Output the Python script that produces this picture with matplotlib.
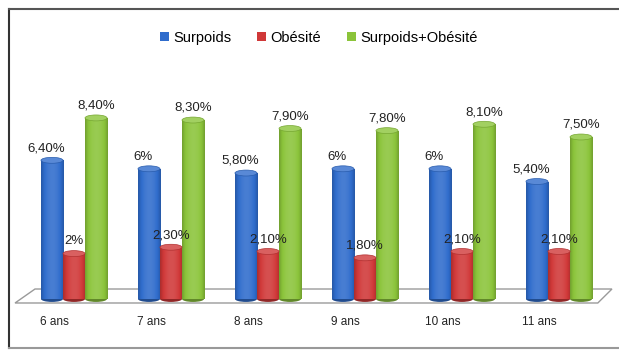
import numpy as np
import matplotlib.pyplot as plt
from matplotlib.patches import Rectangle, Ellipse, Polygon, Patch
from matplotlib.lines import Line2D

# Données
ages = ["6 ans", "7 ans", "8 ans", "9 ans", "10 ans", "11 ans"]
surpoids = [6.4, 6.0, 5.8, 6.0, 6.0, 5.4]
obesite = [2.0, 2.3, 2.1, 1.8, 2.1, 2.1]
total = [8.4, 8.3, 7.9, 7.8, 8.1, 7.5]

series = ["Surpoids", "Obésité", "Surpoids+Obésité"]
couleurs = ["#2f6ccc", "#d03838", "#8bc43a"]


def fmt(v):
    if float(v).is_integer():
        return f"{int(v)}%"
    return f"{v:.2f}".replace(".", ",") + "%"


def ombre(c, f):
    c = np.array(plt.matplotlib.colors.to_rgb(c))
    if f < 1:
        return c * f
    return c + (1 - c) * (f - 1)


def gradient(c):
    t = np.linspace(0, 1, 40)
    prof = 0.65 + 0.55 * np.sin(np.pi * (0.1 + 0.8 * t))
    prof = np.where(prof > 1, 1 + (prof - 1) * 0.6, prof)
    return np.array([[ombre(c, p) for p in prof]])


fig = plt.figure(figsize=(6.19, 3.53), dpi=100)
ax = fig.add_axes([0, 0, 1, 1])
ax.set_xlim(-74 / 97, 545 / 97)
ax.set_ylim(-57 / 21.2, 296 / 21.2)
ax.axis("off")

# sol en perspective
sol = Polygon([(-0.608, -0.33), (5.40, -0.33), (5.546, 0.33), (-0.402, 0.33)],
              closed=True, facecolor="white", edgecolor="#9a9a9a", lw=1)
ax.add_patch(sol)

w = 0.227
cap = 0.28
x = np.arange(len(ages))
for k, (vals, col) in enumerate(zip([surpoids, obesite, total], couleurs)):
    for i, v in enumerate(vals):
        xc = x[i] + (k - 1) * w
        x0, x1 = xc - w / 2, xc + w / 2
        im = ax.imshow(gradient(col), extent=[x0, x1, -cap / 2, v],
                       aspect="auto", zorder=2, interpolation="bilinear")
        body = Rectangle((x0, -cap / 2), w, v + cap / 2, transform=ax.transData)
        im.set_clip_path(body)
        bas = Ellipse((xc, -cap / 2), w, cap, facecolor=ombre(col, 0.7),
                      edgecolor="none", zorder=1.9)
        ax.add_patch(bas)
        top = Ellipse((xc, v), w, cap, facecolor=ombre(col, 1.2),
                      edgecolor=ombre(col, 0.85), lw=0.5, zorder=3)
        ax.add_patch(top)
        dx = -0.06 if k == 0 else 0.0
        ax.text(xc + dx, v + cap / 2 + 0.15, fmt(v), ha="center", va="bottom",
                fontsize=9.5, family="Liberation Sans", color="#222222", zorder=4)

# étiquettes de l'axe
for i, lab in enumerate(ages):
    ax.text(x[i] - 0.2, -1.23, lab, ha="center", va="center",
            fontsize=8.5, family="Liberation Sans", color="#222222")

# légende
handles = [Patch(facecolor=c, edgecolor="none") for c in couleurs]
fig.legend(handles, series, loc="center", bbox_to_anchor=(0.515, 0.893), ncol=3,
           frameon=False, prop={"family": "Liberation Sans", "size": 10.5},
           handlelength=0.6, handleheight=0.6, handletextpad=0.3, columnspacing=1.8)

# cadre
W, H = 619, 353
fig.add_artist(Line2D([9 / W, 9 / W], [1 - 9 / H, 1 - 348 / H], color="#333333", lw=1.5))
fig.add_artist(Line2D([9 / W, 1], [1 - 9 / H, 1 - 9 / H], color="#555555", lw=1.5))
fig.add_artist(Line2D([9 / W, 1], [1 - 348 / H, 1 - 348 / H], color="#999999", lw=1.5))

fig.savefig("out.png", dpi=100)
